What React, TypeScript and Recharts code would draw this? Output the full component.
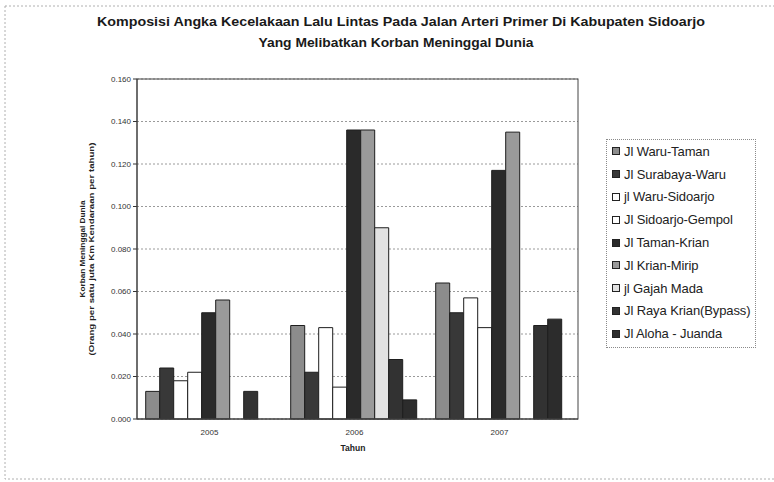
import { BarChart, Bar, XAxis, YAxis, CartesianGrid } from "recharts"

// Tahun pengamatan
const years = ["2005", "2006", "2007"]

// Korban meninggal dunia per ruas jalan (orang per satu juta km kendaraan per tahun)
const waruTaman = [0.013, 0.044, 0.064]
const surabayaWaru = [0.024, 0.022, 0.05]
const waruSidoarjo = [0.018, 0.043, 0.057]
const sidoarjoGempol = [0.022, 0.015, 0.043]
const tamanKrian = [0.05, 0.136, 0.117]
const krianMirip = [0.056, 0.136, 0.135]
const gajahMada = [0, 0.09, 0]
const rayaKrian = [0.013, 0.028, 0.044]
const alohaJuanda = [0, 0.009, 0.047]

const yTicks = [0, 0.02, 0.04, 0.06, 0.08, 0.1, 0.12, 0.14, 0.16]

const series = [
  { key: "waruTaman", name: "Jl Waru-Taman", values: waruTaman, fill: "#8c8c8c" },
  { key: "surabayaWaru", name: "Jl Surabaya-Waru", values: surabayaWaru, fill: "#383838" },
  { key: "waruSidoarjo", name: "jl Waru-Sidoarjo", values: waruSidoarjo, fill: "#ffffff" },
  { key: "sidoarjoGempol", name: "Jl Sidoarjo-Gempol", values: sidoarjoGempol, fill: "#ffffff" },
  { key: "tamanKrian", name: "Jl Taman-Krian", values: tamanKrian, fill: "#2a2a2a" },
  { key: "krianMirip", name: "Jl Krian-Mirip", values: krianMirip, fill: "#9a9a9a" },
  { key: "gajahMada", name: "jl Gajah Mada", values: gajahMada, fill: "#e2e2e2" },
  { key: "rayaKrian", name: "Jl Raya Krian(Bypass)", values: rayaKrian, fill: "#323232" },
  { key: "alohaJuanda", name: "Jl Aloha - Juanda", values: alohaJuanda, fill: "#2c2c2c" },
]

const data = years.map((year, i) => {
  const row: Record<string, string | number> = { year }
  series.forEach((s) => {
    row[s.key] = s.values[i]
  })
  return row
})

const font = '"Liberation Sans", Arial, sans-serif'

function LegendBox() {
  return (
    <div
      style={{
        position: "absolute",
        left: 606,
        top: 139,
        width: 150,
        height: 209,
        boxSizing: "border-box",
        border: "1px dotted #8a8a8a",
        paddingLeft: 5,
        fontFamily: font,
        fontSize: 13,
        letterSpacing: -0.1,
        color: "#222",
      }}
    >
      {series.map((s) => (
        <div key={s.key} style={{ height: 22.8, display: "flex", alignItems: "center" }}>
          <span
            style={{
              width: 6,
              height: 6,
              border: "1px solid #222",
              background: s.fill,
              marginRight: 4,
              flexShrink: 0,
            }}
          />
          <span style={{ whiteSpace: "nowrap" }}>{s.name}</span>
        </div>
      ))}
    </div>
  )
}

export default function App() {
  return (
    <div style={{ position: "absolute", left: 0, top: 0, width: 774, height: 482, background: "#fff" }}>
      <BarChart
        width={774}
        height={482}
        data={data}
        margin={{ top: 79, right: 196, bottom: 33, left: 77 }}
        barCategoryGap="6%"
        barGap={0}
      >
        <CartesianGrid vertical={false} stroke="#9a9a9a" strokeDasharray="2 2" />
        <XAxis
          dataKey="year"
          padding={{ left: 0, right: 6 }}
          tickLine={false}
          tickMargin={4}
          axisLine={{ stroke: "#333" }}
          tick={{ fontSize: 8, fill: "#333", fontFamily: font }}
        />
        <YAxis
          domain={[0, 0.16]}
          ticks={yTicks}
          tickFormatter={(v: number) => v.toFixed(3)}
          width={60}
          tickSize={4}
          tick={{ fontSize: 8, fill: "#333", fontFamily: font }}
          axisLine={{ stroke: "#333" }}
          tickLine={{ stroke: "#333" }}
        />
        {series.map((s) => (
          <Bar
            key={s.key}
            dataKey={s.key}
            name={s.name}
            fill={s.fill}
            stroke="#1e1e1e"
            strokeWidth={1}
            isAnimationActive={false}
          />
        ))}
      </BarChart>

      <LegendBox />

      {/* frame, titles and axis captions */}
      <svg
        width={774}
        height={482}
        style={{ position: "absolute", left: 0, top: 0, pointerEvents: "none" }}
        fontFamily={font}
      >
        <rect x={5} y={6} width={780} height={473} fill="none" stroke="#b0b0b0" strokeDasharray="2 2" />
        <rect x={137} y={79} width={441} height={340} fill="none" stroke="#444" />
        <text
          x={401}
          y={26}
          textAnchor="middle"
          fontSize={13}
          fontWeight="bold"
          fill="#1a1a1a"
          textLength={608}
          lengthAdjust="spacingAndGlyphs"
        >
          Komposisi Angka Kecelakaan Lalu Lintas Pada Jalan Arteri Primer Di Kabupaten Sidoarjo
        </text>
        <text
          x={396}
          y={47}
          textAnchor="middle"
          fontSize={13}
          fontWeight="bold"
          fill="#1a1a1a"
          textLength={275}
          lengthAdjust="spacingAndGlyphs"
        >
          Yang Melibatkan Korban Meninggal Dunia
        </text>
        <text
          transform="translate(85,249) rotate(-90)"
          textAnchor="middle"
          fontSize={7.5}
          fontWeight="bold"
          fill="#222"
          textLength={97}
          lengthAdjust="spacingAndGlyphs"
        >
          Korban Meninggal Dunia
        </text>
        <text
          transform="translate(94,249) rotate(-90)"
          textAnchor="middle"
          fontSize={7.5}
          fontWeight="bold"
          fill="#222"
          textLength={213}
          lengthAdjust="spacingAndGlyphs"
        >
          (Orang per satu juta Km Kendaraan per tahun)
        </text>
        <text x={353} y={451} textAnchor="middle" fontSize={8.5} fontWeight="bold" fill="#222">
          Tahun
        </text>
      </svg>
    </div>
  )
}
